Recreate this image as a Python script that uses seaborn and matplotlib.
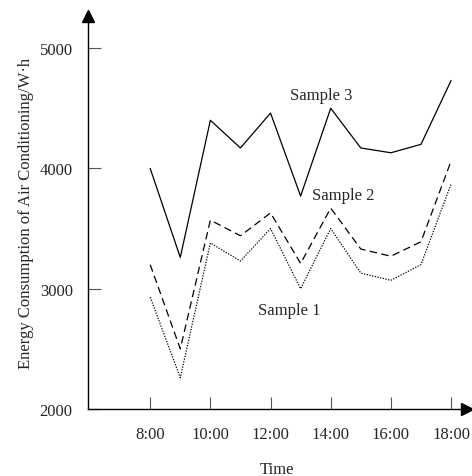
import pandas as pd
import matplotlib
matplotlib.use('Agg')
import matplotlib.pyplot as plt
import seaborn as sns

hours = [8, 9, 10, 11, 12, 13, 14, 15, 16, 17, 18]
sample1 = [2930, 2260, 3380, 3230, 3500, 3000, 3500, 3130, 3070, 3200, 3870]
sample2 = [3200, 2500, 3570, 3440, 3630, 3210, 3670, 3330, 3270, 3390, 4060]
sample3 = [4000, 3260, 4400, 4170, 4460, 3770, 4500, 4170, 4130, 4200, 4730]
tick_hours = [8, 10, 12, 14, 16, 18]
tick_labels = ['8:00', '10:00', '12:00', '14:00', '16:00', '18:00']
y_ticks = [2000, 3000, 4000, 5000]

df = pd.DataFrame({
    'hour': hours * 3,
    'energy': sample1 + sample2 + sample3,
    'sample': ['Sample 1'] * 11 + ['Sample 2'] * 11 + ['Sample 3'] * 11,
})

sns.set_style('ticks')
plt.rcParams['font.family'] = ['Liberation Serif', 'DejaVu Serif']
plt.rcParams['font.size'] = 12

fig = plt.figure(figsize=(4.72, 4.77), dpi=100)
ax = fig.add_axes([88 / 472, 67 / 477, 379 / 472, 393 / 477])

sns.lineplot(data=df, x='hour', y='energy', style='sample', color='black',
             dashes={'Sample 1': (1, 1.2), 'Sample 2': (6, 3.5), 'Sample 3': ''},
             linewidth=0.9, legend=False, ax=ax)

ax.text(13.7, 4608, 'Sample 3', ha='center', va='center', fontsize=12)
ax.text(14.4, 3783, 'Sample 2', ha='center', va='center', fontsize=12)
ax.text(12.63, 2825, 'Sample 1', ha='center', va='center', fontsize=12)

ax.set_xlim(5.933, 18.53)
ax.set_ylim(2000, 5267)
ax.set_xticks(tick_hours)
ax.set_xticklabels(tick_labels)
ax.set_yticks(y_ticks)
ax.tick_params(direction='in', length=9, width=0.8, color='#555555', labelsize=12)
ax.tick_params(axis='x', pad=12)
ax.tick_params(axis='y', pad=11)

sns.despine(ax=ax)
ax.spines['left'].set_linewidth(1.0)
ax.spines['bottom'].set_linewidth(1.0)
ax.spines['left'].set_color('black')
ax.spines['bottom'].set_color('black')

# arrow heads on the axes
ax.plot(1, 0, '>', color='black', markersize=9, transform=ax.transAxes, clip_on=False)
ax.plot(0, 1, '^', color='black', markersize=9, transform=ax.transAxes, clip_on=False)

ax.set_xlabel('Time', fontsize=12, labelpad=14)
ax.set_ylabel('Energy Consumption of Air Conditioning/W·h', fontsize=12, labelpad=4)

fig.savefig('out.png', dpi=100)
